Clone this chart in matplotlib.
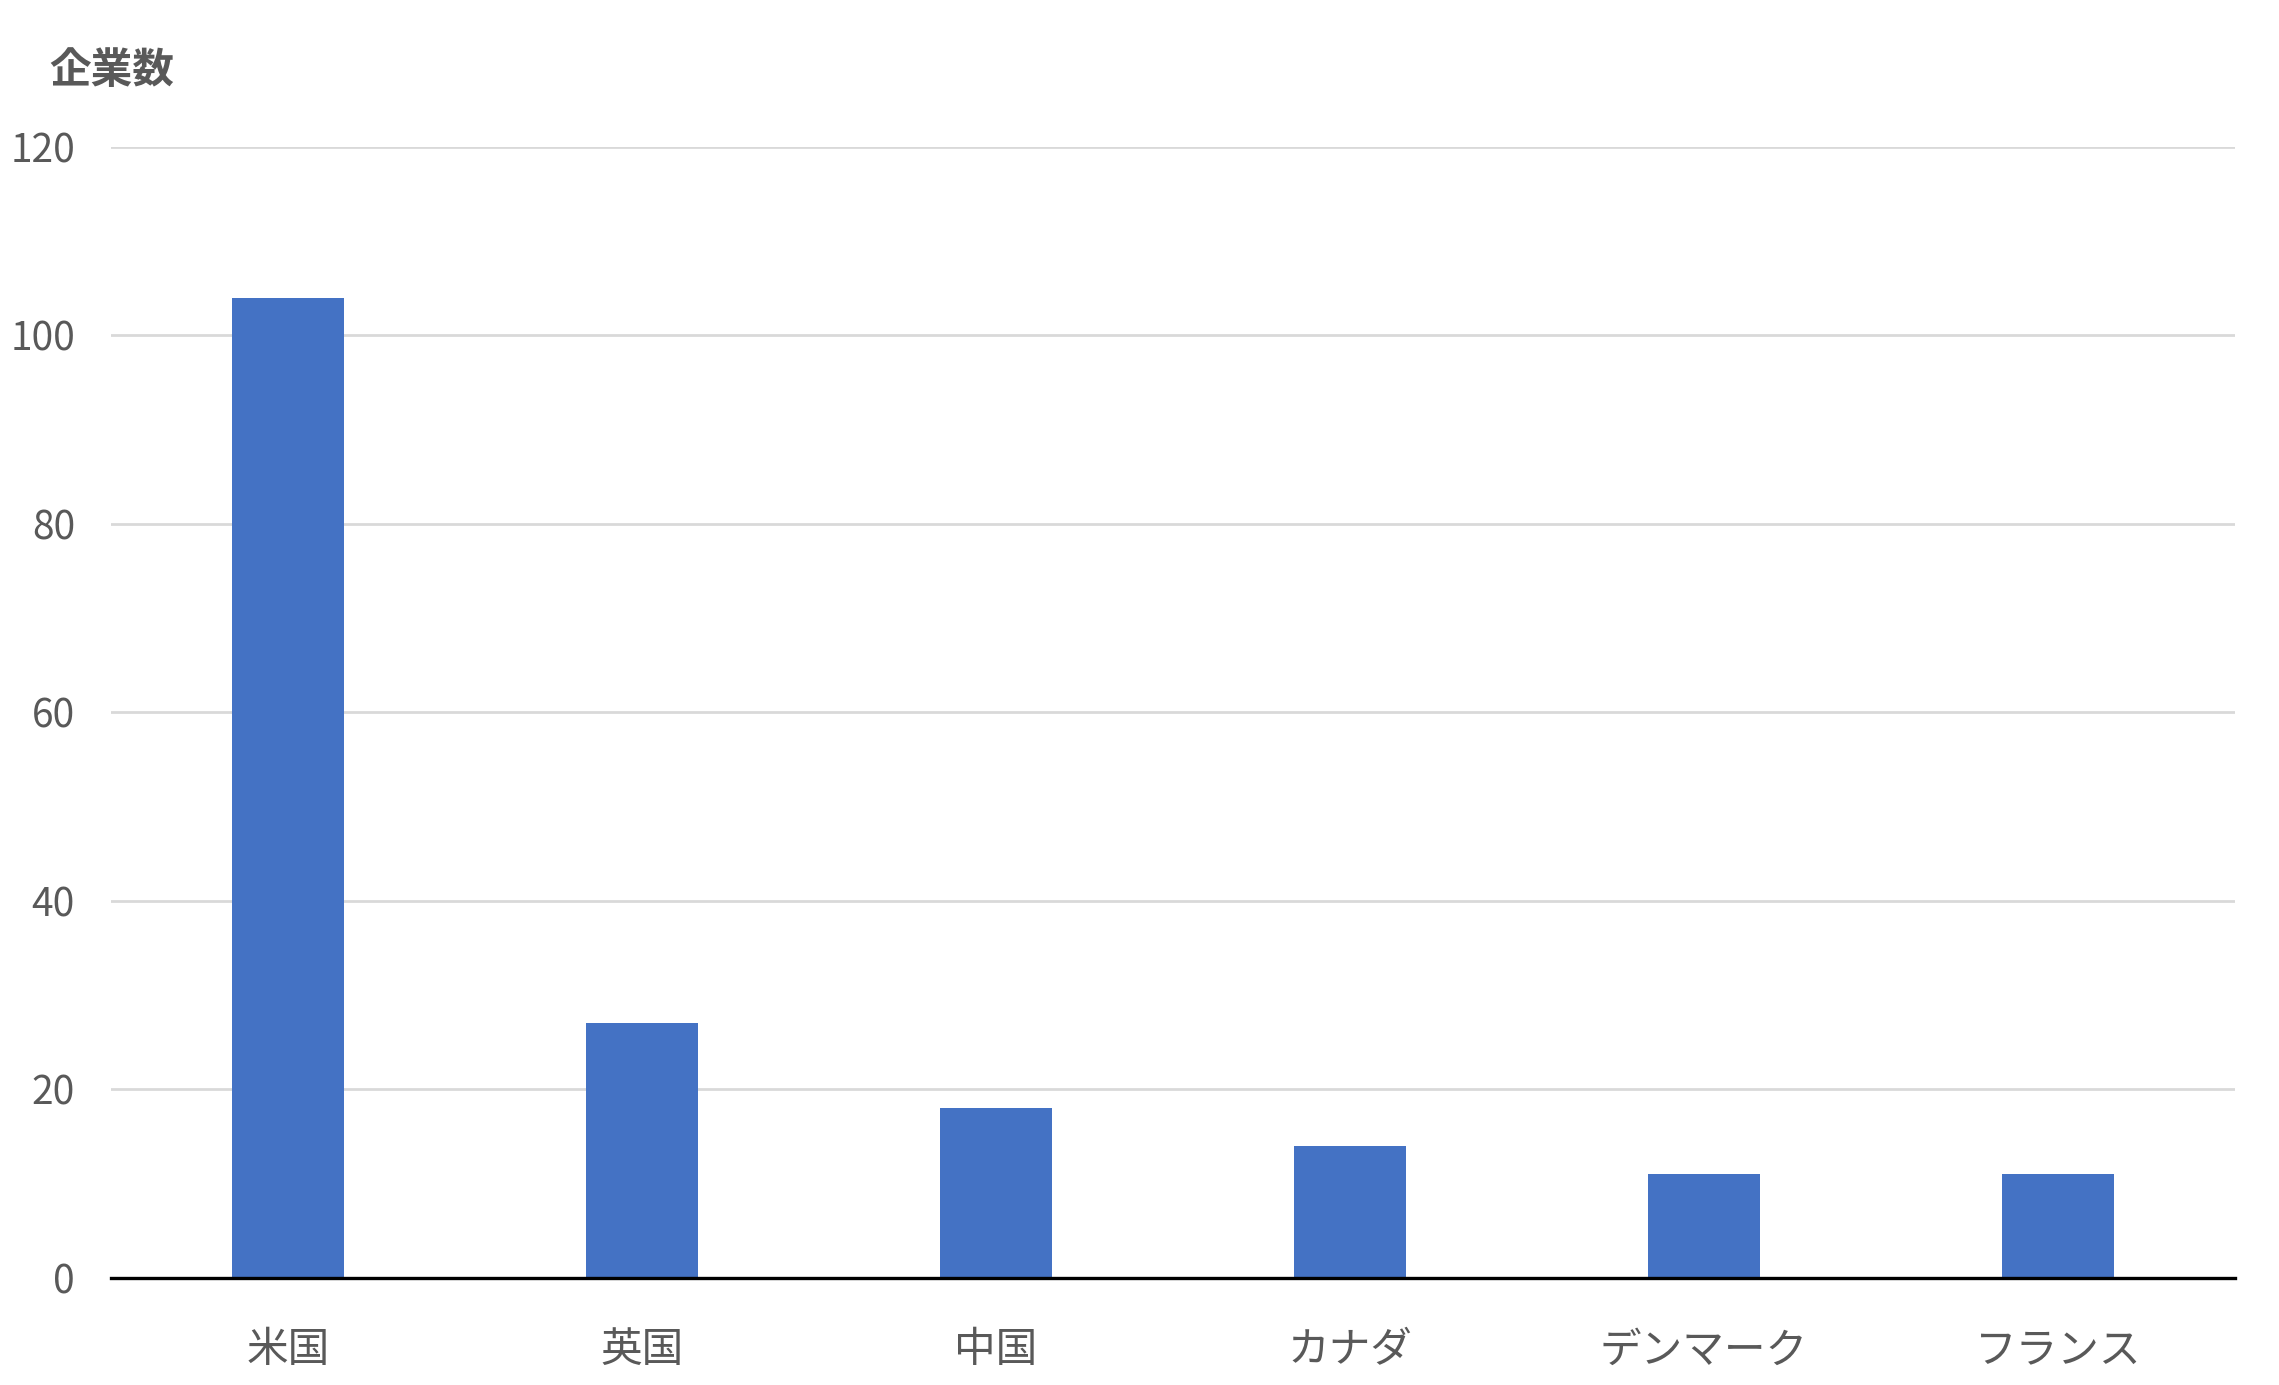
import matplotlib
matplotlib.use('Agg')
import matplotlib.pyplot as plt

plt.rcParams['font.family'] = ['Noto Sans CJK JP', 'DejaVu Sans']

# データ
countries = ['米国', '英国', '中国', 'カナダ', 'デンマーク', 'フランス']
companies = [104, 27, 18, 14, 11, 11]
yticks = [0, 20, 40, 60, 80, 100, 120]

textColor = '#595959'
barColor = '#4472C4'

fig = plt.figure(figsize=(22.79, 13.85), dpi=100)
ax = fig.add_axes([0.0487, 0.0775, 0.932, 0.8164])

x = range(len(countries))
ax.bar(x, companies, width=0.317, color=barColor, zorder=3)

ax.set_xlim(-0.5, len(countries) - 0.5)
ax.set_ylim(0, 120)
ax.set_yticks(yticks)
ax.set_xticks(list(x))
ax.set_xticklabels(countries)

ax.grid(axis='y', color='#D9D9D9', linewidth=2.0, zorder=0)
for s in ['top', 'right', 'left']:
    ax.spines[s].set_visible(False)
ax.spines['bottom'].set_color('black')
ax.spines['bottom'].set_linewidth(2.4)
ax.spines['bottom'].set_zorder(4)

ax.tick_params(axis='both', length=0, labelcolor=textColor)
ax.tick_params(axis='x', pad=38, labelsize=30)
ax.tick_params(axis='y', pad=26, labelsize=28)

fig.text(0.0215, 0.949, '企業数', fontsize=30, fontweight='bold',
         color=textColor, ha='left', va='center')

fig.savefig('out.png', dpi=100)
